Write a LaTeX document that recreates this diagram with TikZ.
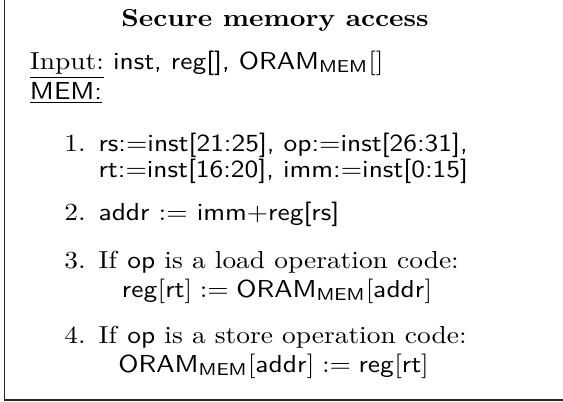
\documentclass[tikz,border=0pt]{standalone}
\usepackage{graphicx}
% text is set a little wider than its natural shape
\newcommand{\wide}[1]{\scalebox{1.117}[1]{#1}}
\begin{document}
\begin{tikzpicture}[x=0.40717pt,y=-0.40717pt,
  txt/.style={anchor=base west, inner sep=0pt, outer sep=0pt},
  ttl/.style={anchor=base, inner sep=0pt, outer sep=0pt, font=\bfseries},
  frameline/.style={line width=0.45pt, black!85}]
\useasboundingbox (0,0) rectangle (563,402);
% open frame: left side and bottom edge
\coordinate (ftop) at (4.5,0);
\coordinate (fcorner) at (4.5,400);
\coordinate (fright) at (563,400);
\draw[frameline] (ftop) -- (fcorner) -- (fright);
% heading and inputs
\node[ttl] (title) at (275,26) {\wide{Secure memory access}};
\node[txt] (input) at (30,69) {\wide{\underline{Input:} \textsf{inst, reg[],} $\mathsf{ORAM}_{\mathsf{MEM}}[]$}};
\node[txt] (mem) at (30,99) {\wide{\underline{\textsf{MEM:}}}};
% numbered steps
\node[txt] (n1) at (64.5,151.5) {\wide{1.}};
\node[txt] (s1a) at (98.6,151.5) {\wide{\textsf{rs:=inst[21:25], op:=inst[26:31],}}};
\node[txt] (s1b) at (98.6,177) {\wide{\textsf{rt:=inst[16:20], imm:=inst[0:15]}}};
\node[txt] (n2) at (64.5,220) {\wide{2.}};
\node[txt] (s2) at (98.6,220) {\wide{\textsf{addr} $:=$ \textsf{imm}$+$\textsf{reg[rs]}}};
\node[txt] (n3) at (64.5,268) {\wide{3.}};
\node[txt] (s3a) at (98.6,268) {\wide{If \textsf{op} is a load operation code:}};
\node[txt] (s3b) at (122,297) {\wide{$\mathsf{reg}[\mathsf{rt}] := \mathsf{ORAM}_{\mathsf{MEM}}[\mathsf{addr}]$}};
\node[txt] (n4) at (64.5,343) {\wide{4.}};
\node[txt] (s4a) at (98.6,343) {\wide{If \textsf{op} is a store operation code:}};
\node[txt] (s4b) at (118.5,372) {\wide{$\mathsf{ORAM}_{\mathsf{MEM}}[\mathsf{addr}] := \mathsf{reg}[\mathsf{rt}]$}};
\end{tikzpicture}
\end{document}
